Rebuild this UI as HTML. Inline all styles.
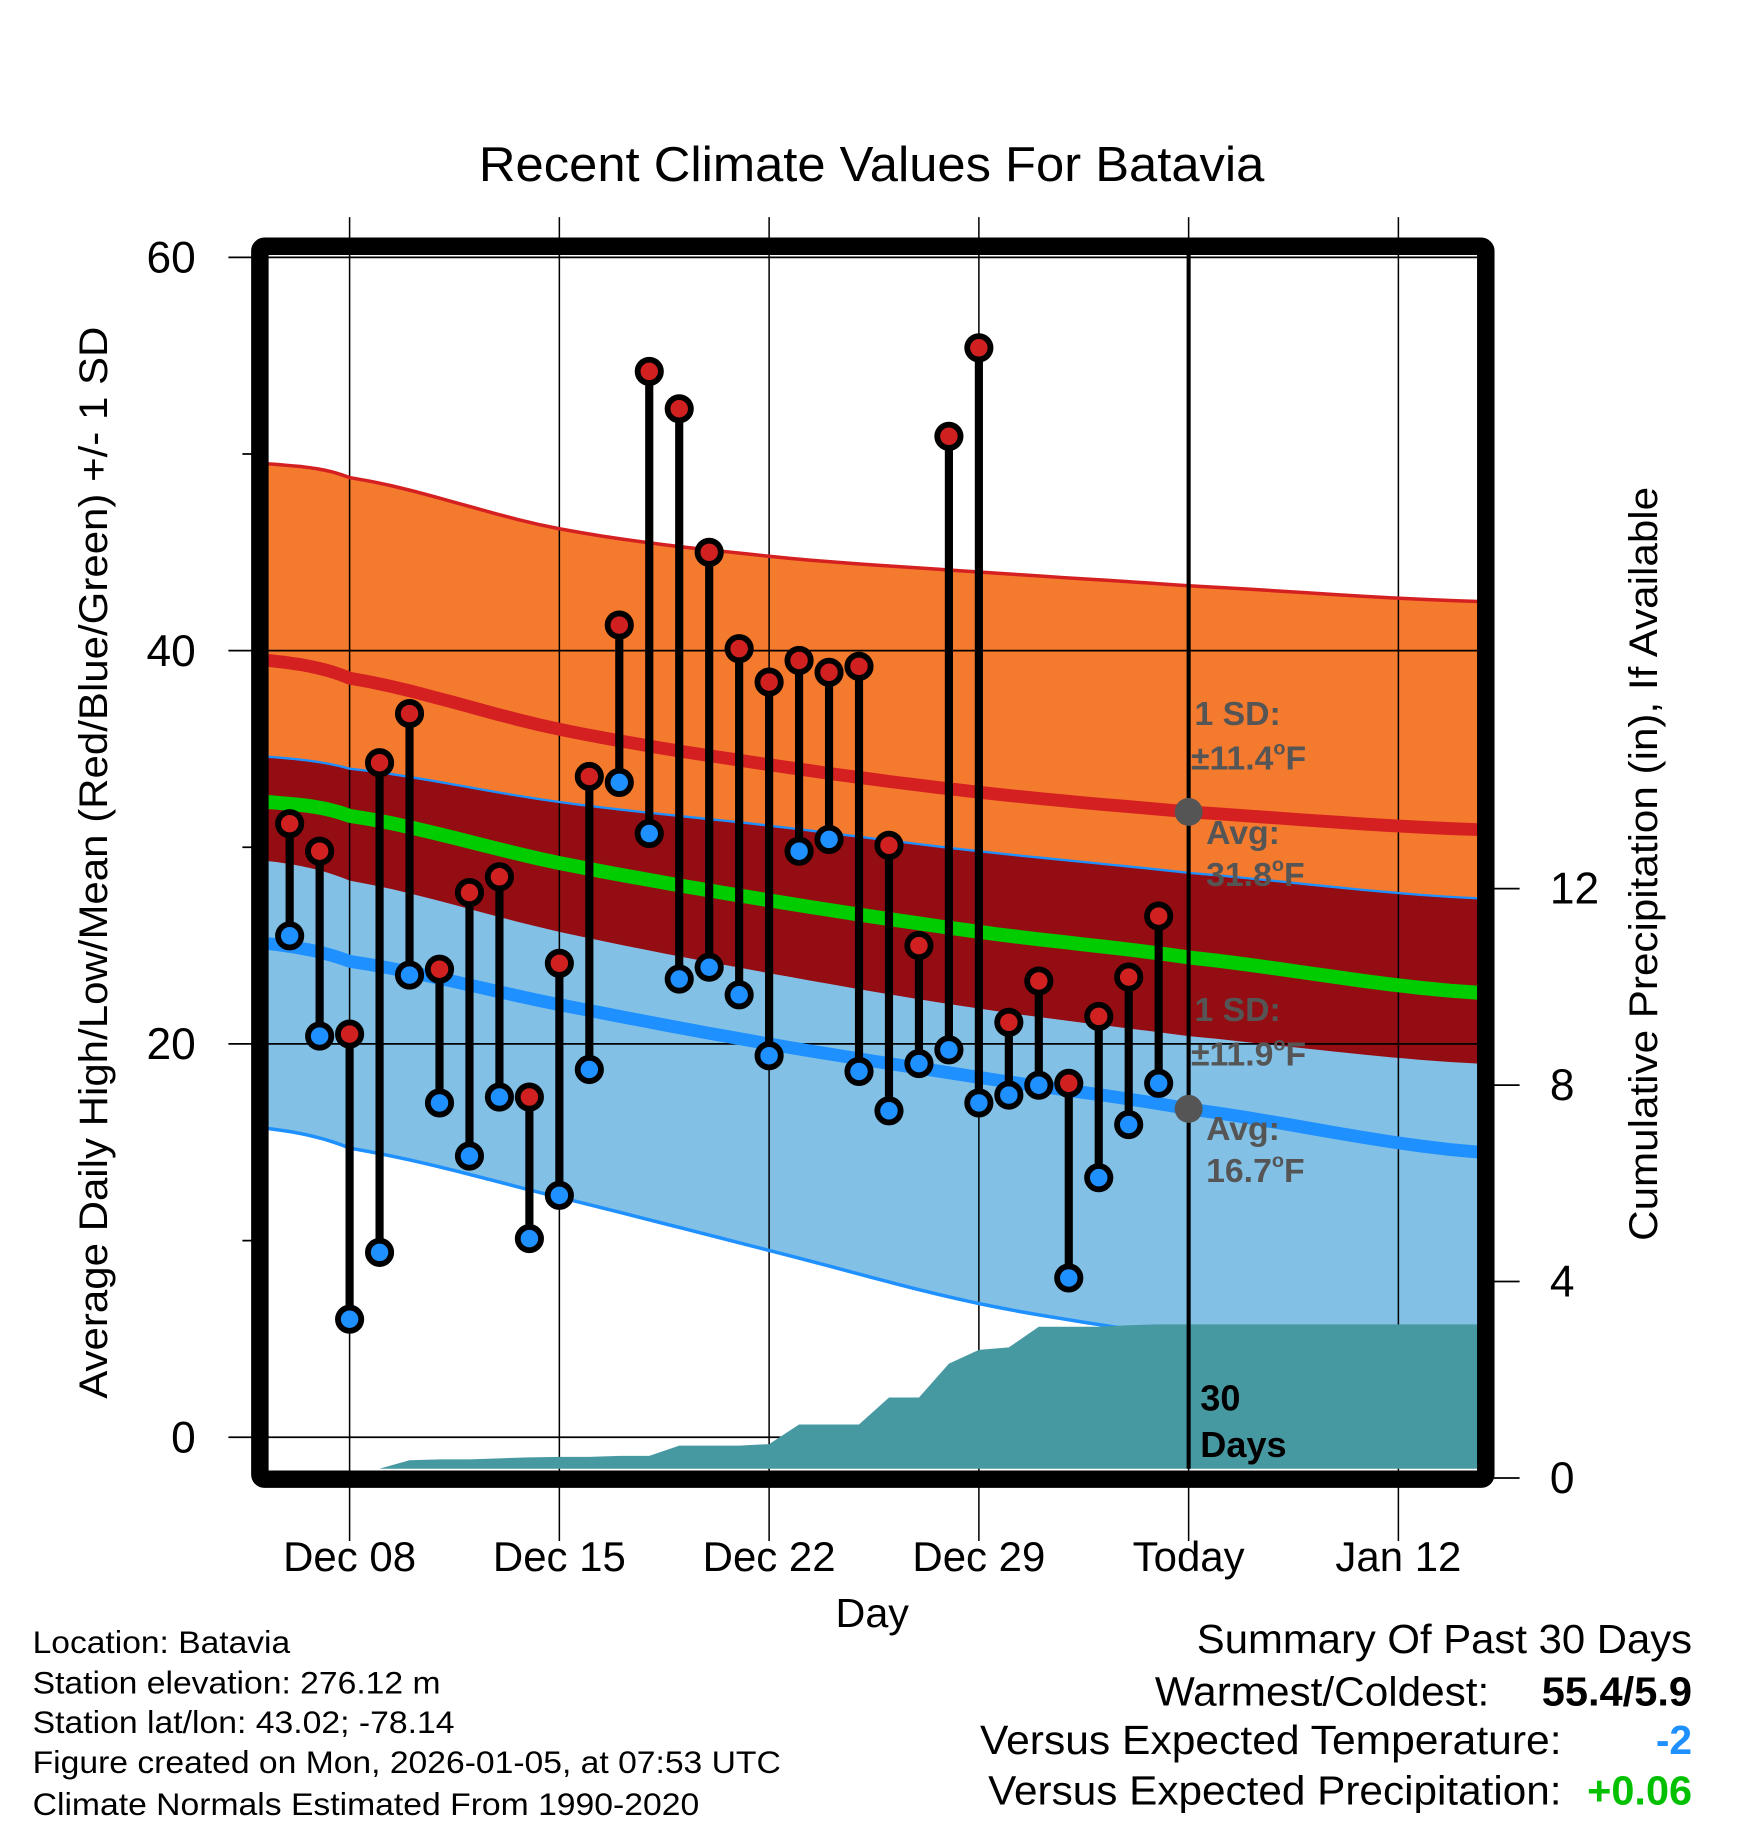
<!DOCTYPE html>
<html><head><meta charset="utf-8"><style>
html,body{margin:0;padding:0;background:#fff}
svg{display:block}
text{font-family:"Liberation Sans",sans-serif}
</style></head><body>
<svg id="chart" width="1748" height="1828" viewBox="0 0 1500 1568" xmlns="http://www.w3.org/2000/svg">
<g id="bg"></g>
<g id="marks"></g>
<g id="fg"></g>
</svg>
<script>
// ---- data ----
const dayOffsets = [-2,-1,0,1,2,3,4,5,6,7,8,9,10,11,12,13,14,15,16,17,18,19,20,21,22,23,24,25,26,27];
const highs = [31.2,29.8,20.5,34.3,36.8,23.8,27.7,28.5,17.3,24.1,33.6,41.3,54.2,52.3,45.0,40.1,38.4,39.5,38.9,39.2,30.1,25.0,50.9,55.4,21.1,23.2,18.0,21.4,23.4,26.5];
const lows = [25.5,20.4,6.0,9.4,23.5,17.0,14.3,17.3,10.1,12.3,18.7,33.3,30.7,23.3,23.9,22.5,19.4,29.8,30.4,18.6,16.6,19.0,19.7,17.0,17.4,17.9,8.1,13.2,15.9,18.0];
const precipCum = [0,0,0,0,0.36,0.38,0.38,0.40,0.42,0.43,0.43,0.45,0.45,0.66,0.66,0.66,0.69,1.09,1.09,1.09,1.64,1.64,2.33,2.61,2.66,3.08,3.08,3.08,3.11,3.13];
const normDays = [-2.72,0,7,14,21,28,37.68];
const highPlusSD = [49.5,48.8,46.2,44.8,44.0,43.3,42.5];
const highAvg = [39.5,38.6,36.0,34.2,32.8,31.8,30.9];
const highMinusSD = [29.3,28.3,25.7,23.6,21.8,20.4,19.0];
const lowPlusSD = [34.6,34.0,32.3,31.1,29.8,28.7,27.4];
const meanAvg = [32.3,31.6,29.2,27.3,25.7,24.4,22.6];
const lowAvg = [25.1,24.2,22.0,20.0,18.3,16.7,14.5];
const lowMinusSD = [15.7,14.7,12.2,9.5,6.8,5.0,3.1];
const xTickDays = [0,7,14,21,28,35];
const xTickLabels = ["Dec 08","Dec 15","Dec 22","Dec 29","Today","Jan 12"];
const yTicks = [0,20,40,60];
const yMinorTicks = [10,30,50];
const y2Ticks = [0,4,8,12];

// ---- axes ----
const PL=230, PR=1268, PT=218, PB=1260;
const X = d => 300 + d*25.714;
const Y = t => 1233 - t*16.875;
const Y2 = p => 1268 - p*42.15;
const NS='http://www.w3.org/2000/svg';
function mk(parent, tag, attrs, txt){const e=document.createElementNS(NS,tag);for(const k in attrs)e.setAttribute(k,attrs[k]);if(txt!==undefined)e.textContent=txt;document.getElementById(parent).appendChild(e);return e;}
// smooth interpolation (monotone-ish catmull-rom sampling) between the read normal values
function sample(days, vals){
  const out=[];
  for(let i=0;i<days.length-1;i++){
    const p0=vals[Math.max(0,i-1)],p1=vals[i],p2=vals[i+1],p3=vals[Math.min(vals.length-1,i+2)];
    for(let s=0;s<10;s++){const t=s/10;
      const v=0.5*((2*p1)+(-p0+p2)*t+(2*p0-5*p1+4*p2-p3)*t*t+(-p0+3*p1-3*p2+p3)*t*t*t);
      out.push([days[i]+(days[i+1]-days[i])*t,v]);}
  }
  out.push([days[days.length-1],vals[vals.length-1]]);
  return out;
}
function pts(days, vals){return sample(days,vals).map(p=>X(p[0]).toFixed(1)+','+Y(p[1]).toFixed(1));}

let e;
e=mk('bg','polygon',{points:pts(normDays,highPlusSD).concat(pts(normDays,highMinusSD).reverse()).join(' '),fill:'#f47a2e'});

e=mk('bg','polygon',{points:pts(normDays,lowPlusSD).concat(pts(normDays,lowMinusSD).reverse()).join(' '),fill:'#82c0e6'});

e=mk('bg','polygon',{points:pts(normDays,lowPlusSD).concat(pts(normDays,highMinusSD).reverse()).join(' '),fill:'#940d12'});

xTickDays.forEach((d,i)=>{e=mk('bg','line',{x1:X(d),x2:X(d),y1:186,y2:1322,stroke:'#000','stroke-width':1.3});
});
yTicks.forEach(t=>{e=mk('bg','line',{x1:196,x2:PR,y1:Y(t),y2:Y(t),stroke:'#000','stroke-width':1.5});
});
yMinorTicks.forEach(t=>{e=mk('bg','line',{x1:208,x2:PL,y1:Y(t),y2:Y(t),stroke:'#000','stroke-width':1.5});
});
function line(vals,color,w,name){e=mk('bg','polyline',{points:pts(normDays,vals).join(' '),fill:'none',stroke:color,'stroke-width':w});
}
line(highPlusSD,'#d42020',3,'high-plus-sd-line');
line(highAvg,'#d42020',11,'high-avg-line');
line(lowPlusSD,'#1e90ff',2,'low-plus-sd-line');
line(meanAvg,'#00cc00',12,'mean-avg-line');
line(lowAvg,'#1e90ff',11,'low-avg-line');
line(lowMinusSD,'#1e90ff',3,'low-minus-sd-line');
let pp=[X(dayOffsets[0])+','+PB];
dayOffsets.forEach((d,i)=>pp.push(X(d).toFixed(1)+','+Math.min(PB,Y2(precipCum[i])).toFixed(1)));
pp.push(PR+','+Math.min(PB,Y2(precipCum[precipCum.length-1])).toFixed(1));
pp.push(PR+','+PB);
e=mk('bg','polygon',{points:pp.join(' '),fill:'#4799a1'});

dayOffsets.forEach((d,i)=>{
 e=mk('marks','line',{x1:X(d),x2:X(d),y1:Y(highs[i]),y2:Y(lows[i]),stroke:'#000','stroke-width':7});
 
});
dayOffsets.forEach((d,i)=>{
 e=mk('marks','circle',{cx:X(d),cy:Y(lows[i]),r:10,fill:'#1e90ff',stroke:'#000','stroke-width':5});
 
 e=mk('marks','circle',{cx:X(d),cy:Y(highs[i]),r:10,fill:'#d02020',stroke:'#000','stroke-width':5});
 
});
e=mk('fg','line',{x1:X(28),x2:X(28),y1:PT,y2:PB,stroke:'#000','stroke-width':3.5});

e=mk('fg','circle',{cx:X(28),cy:Y(highAvg[5]),r:12,fill:'#555'});

e=mk('fg','circle',{cx:X(28),cy:Y(lowAvg[5]),r:12,fill:'#555'});

e=mk('fg','rect',{x:223,y:211,width:1052,height:1058,rx:4,fill:'none',stroke:'#000','stroke-width':15});

yTicks.forEach(t=>{e=mk('fg','text',{x:168,y:Y(t)+13,'text-anchor':'end','font-size':38},String(t));
});
y2Ticks.forEach(p=>{e=mk('fg','line',{x1:1282,x2:1304,y1:Y2(p),y2:Y2(p),stroke:'#000','stroke-width':1.5});

e=mk('fg','text',{x:1330,y:Y2(p)+13,'font-size':38},String(p));
});
xTickDays.forEach((d,i)=>{e=mk('fg','text',{x:X(d),y:1348,'text-anchor':'middle','font-size':36},xTickLabels[i]);
});
</script>
<svg style="position:absolute;left:0;top:0" width="1748" height="1828" viewBox="0 0 1500 1568" xmlns="http://www.w3.org/2000/svg">
<g font-family="Liberation Sans, sans-serif">
<text x="411" y="155" font-size="42" textLength="674" lengthAdjust="spacingAndGlyphs">Recent Climate Values For Batavia</text>
<text transform="translate(92,740) rotate(-90)" text-anchor="middle" font-size="34" textLength="920" lengthAdjust="spacingAndGlyphs">Average Daily High/Low/Mean (Red/Blue/Green) +/- 1 SD</text>
<text transform="translate(1422,741) rotate(-90)" text-anchor="middle" font-size="34" textLength="647" lengthAdjust="spacingAndGlyphs">Cumulative Precipitation (in), If Available</text>
<text x="717" y="1396" font-size="35" textLength="63" lengthAdjust="spacingAndGlyphs">Day</text>
<g fill="#555" font-weight="bold" font-size="29">
<text x="1025" y="622">1 SD:</text>
<text x="1022" y="660">±11.4<tspan font-size="17" dy="-13">o</tspan><tspan dy="13">F</tspan></text>
<text x="1035" y="724">Avg:</text>
<text x="1035" y="760">31.8<tspan font-size="17" dy="-13">o</tspan><tspan dy="13">F</tspan></text>
<text x="1025" y="876">1 SD:</text>
<text x="1022" y="914">±11.9<tspan font-size="17" dy="-13">o</tspan><tspan dy="13">F</tspan></text>
<text x="1035" y="978">Avg:</text>
<text x="1035" y="1014">16.7<tspan font-size="17" dy="-13">o</tspan><tspan dy="13">F</tspan></text>
</g>
<text x="1030" y="1210" font-weight="bold" font-size="31">30</text>
<text x="1030" y="1250" font-weight="bold" font-size="31">Days</text>
<g font-size="27" lengthAdjust="spacingAndGlyphs">
<text x="28" y="1418" textLength="221" lengthAdjust="spacingAndGlyphs">Location: Batavia</text>
<text x="28" y="1453" textLength="350" lengthAdjust="spacingAndGlyphs">Station elevation: 276.12 m</text>
<text x="28" y="1487" textLength="362" lengthAdjust="spacingAndGlyphs">Station lat/lon: 43.02; -78.14</text>
<text x="28" y="1521" textLength="642" lengthAdjust="spacingAndGlyphs">Figure created on Mon, 2026-01-05, at 07:53 UTC</text>
<text x="28" y="1557" textLength="572" lengthAdjust="spacingAndGlyphs">Climate Normals Estimated From 1990-2020</text>
</g>
<g font-size="35">
<text x="1027" y="1418" textLength="425" lengthAdjust="spacingAndGlyphs">Summary Of Past 30 Days</text>
<text x="991" y="1463" textLength="287" lengthAdjust="spacingAndGlyphs">Warmest/Coldest:</text>
<text x="1323" y="1463" font-weight="bold" textLength="129" lengthAdjust="spacingAndGlyphs">55.4/5.9</text>
<text x="841" y="1505" textLength="499" lengthAdjust="spacingAndGlyphs">Versus Expected Temperature:</text>
<text x="1452" y="1505" text-anchor="end" font-weight="bold" fill="#1e90ff">-2</text>
<text x="848" y="1548" textLength="492" lengthAdjust="spacingAndGlyphs">Versus Expected Precipitation:</text>
<text x="1362" y="1548" font-weight="bold" fill="#00c000" textLength="90" lengthAdjust="spacingAndGlyphs">+0.06</text>
</g>
</g>
</svg>
</body></html>
